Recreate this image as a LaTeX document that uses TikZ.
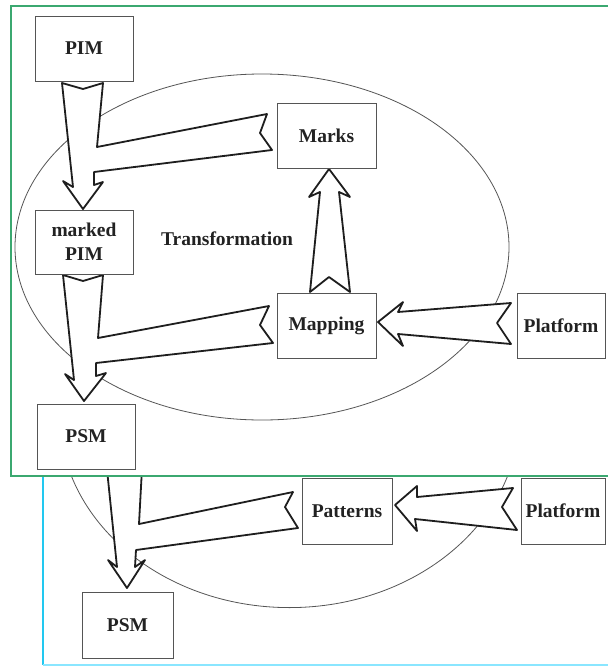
\documentclass[tikz,border=0pt]{standalone}
\usepackage{fontspec}
\setmainfont{Liberation Serif}
\definecolor{panelgreen}{HTML}{3BA870}
\definecolor{panelcyan}{HTML}{22C8F0}
\definecolor{panelcyanlight}{HTML}{8AE6FF}
\definecolor{boxgray}{HTML}{555555}
\definecolor{ringgray}{HTML}{555555}
\definecolor{arrowblack}{HTML}{1E1E1E}
\definecolor{labelblack}{HTML}{222222}
\begin{document}
\begin{tikzpicture}[x=1pt,y=-1pt,
  box/.style={draw=boxgray,line width=1pt,fill=white,inner sep=0pt,
    font=\bfseries\fontsize{19.5}{24}\selectfont,text=labelblack,align=center},
  blockarrow/.style={draw=arrowblack,fill=white,line width=1.8pt,line join=round},
  ring/.style={draw=ringgray,line width=0.8pt},
  caption/.style={font=\bfseries\fontsize{19.5}{24}\selectfont,text=labelblack}]
\useasboundingbox (0,0) rectangle (608,667);

% ---------- lower panel (partly covered) ----------
\draw[panelcyan,line width=2pt] (43,470) -- (43,665);
\draw[panelcyanlight,line width=2pt] (43,665) -- (620,665);
\draw[ring] (289.5,414.6) ellipse [x radius=230, y radius=193];

% Patterns (and the covered source) into the PSM
\draw[blockarrow] (105,450) -- (117,567) -- (108,560) -- (127,588) -- (145,560)
  -- (135,567) -- (136,550) -- (298,528) -- (285,507) -- (293,492)
  -- (139,524) -- (143,450) -- cycle;
% Platform into Patterns
\draw[blockarrow] (513,488) -- (417,497) -- (417,486) -- (395,505) -- (417,531)
  -- (415,519) -- (517,530) -- (502,507) -- cycle;

\node[box,minimum width=90pt,minimum height=66pt] (patterns) at (347,511) {Patterns};
\node[box,minimum width=84pt,minimum height=66pt] (platB) at (563,511) {Platform};
\node[box,minimum width=91pt,minimum height=66pt] (psmB) at (127.5,625) {PSM};

% ---------- upper panel ----------
\draw[panelgreen,line width=2pt,fill=white] (11,6) rectangle (625,476);
\draw[ring] (262,247) ellipse [x radius=247, y radius=173];

% PIM and Marks into the marked PIM
\draw[blockarrow] (62,83) -- (83,89) -- (103,83) -- (97,147) -- (267,114)
  -- (260,133) -- (272,150) -- (94,172) -- (94,185) -- (103,182) -- (83,209)
  -- (63,181) -- (73,187) -- cycle;
% marked PIM and Mapping into the PSM
\draw[blockarrow] (63,275) -- (83,281) -- (103,275) -- (98,338) -- (269,306)
  -- (260,325) -- (273,343) -- (96,363) -- (96,376) -- (106,373) -- (84,401)
  -- (65,374) -- (74,380) -- cycle;
% Mapping up to Marks
\draw[blockarrow] (310,292) -- (320,192) -- (309,197) -- (329,169) -- (350,197)
  -- (339,192) -- (350,292) -- (329,277) -- cycle;
% Platform into Mapping
\draw[blockarrow] (511,303) -- (398,312) -- (403,302) -- (378,322) -- (403,346)
  -- (398,334) -- (511,344) -- (497,323) -- cycle;

\node[box,minimum width=98pt,minimum height=65pt] (pim) at (84,48.5) {PIM};
\node[box,minimum width=98pt,minimum height=64pt] (mpim) at (84,242) {marked\\PIM};
\node[box,minimum width=98pt,minimum height=65pt] (psmA) at (86,436.5) {PSM};
\node[box,minimum width=99pt,minimum height=65pt] (marks) at (326.5,135.5) {Marks};
\node[box,minimum width=99pt,minimum height=65pt] (mapping) at (326.5,325.5) {Mapping};
\node[box,minimum width=88pt,minimum height=65pt] (platA) at (561,325.5) {Platform};
\node[caption] (transf) at (227,239) {Transformation};
\end{tikzpicture}
\end{document}
